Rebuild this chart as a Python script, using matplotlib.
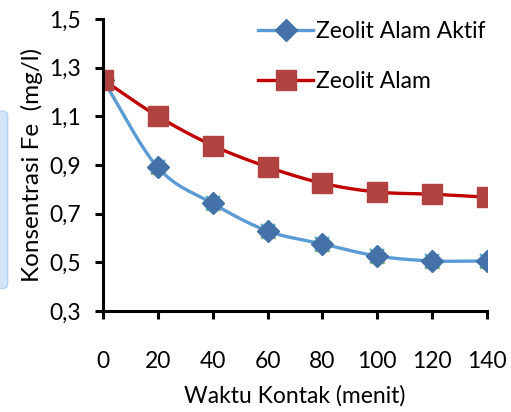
import numpy as np
import matplotlib
matplotlib.use('Agg')
from matplotlib import pyplot as plt
from matplotlib.patches import FancyBboxPatch

# data
waktu = [0, 20, 40, 60, 80, 100, 120, 140]
zeolit_aktif = [1.25, 0.89, 0.742, 0.629, 0.576, 0.526, 0.506, 0.506]
zeolit_alam = [1.25, 1.10, 0.98, 0.892, 0.825, 0.789, 0.78, 0.768]
y_ticks = [0.3, 0.5, 0.7, 0.9, 1.1, 1.3, 1.5]
x_ticks = [0, 20, 40, 60, 80, 100, 120, 140]


def smooth(x, y, n=30):
    # catmull-rom curve through the points (like excel's smoothed line)
    x = np.asarray(x, float)
    y = np.asarray(y, float)
    px = np.concatenate([[2 * x[0] - x[1]], x, [2 * x[-1] - x[-2]]])
    py = np.concatenate([[2 * y[0] - y[1]], y, [2 * y[-1] - y[-2]]])
    t = np.linspace(0, 1, n)[:, None]
    xs, ys = [], []
    for i in range(1, len(px) - 2):
        for p, out in ((px, xs), (py, ys)):
            p0, p1, p2, p3 = p[i - 1], p[i], p[i + 1], p[i + 2]
            seg = 0.5 * ((2 * p1) + (-p0 + p2) * t
                         + (2 * p0 - 5 * p1 + 4 * p2 - p3) * t ** 2
                         + (-p0 + 3 * p1 - 3 * p2 + p3) * t ** 3)
            out.append(seg.ravel())
    return np.concatenate(xs), np.concatenate(ys)


plt.rcParams['font.family'] = ['Lato', 'DejaVu Sans']

fig = plt.figure(figsize=(5.11, 4.12), dpi=100)
ax = fig.add_axes([0.2016, 0.245, 0.7515, 0.709])

# light blue tab at the left edge of the screenshot
fig.patches.append(FancyBboxPatch((-0.02, 0.3), 0.035, 0.43,
                                  boxstyle='round,pad=0,rounding_size=0.01',
                                  transform=fig.transFigure, facecolor='#d3e6f8',
                                  edgecolor='#b3d3f2', lw=1))

# hidden series under the blue diamonds
ax.plot(waktu, zeolit_aktif, ls='none', marker='^', ms=10, color='#9bbb59', zorder=2)
ax.plot(waktu, zeolit_aktif, ls='none', marker='x', ms=10, mew=1.5, color='#4bacc6', zorder=2)

sx, sy = smooth(waktu, zeolit_aktif)
ax.plot(sx, sy, color='#5b9bd5', lw=2.4, zorder=3)
ax.plot(waktu, zeolit_aktif, ls='none', marker='D', ms=11, color='#4472a8', zorder=4)
ax.plot([], [], color='#5b9bd5', lw=2.4, marker='D', ms=11, mfc='#4472a8', mec='#4472a8',
        label='Zeolit Alam Aktif')

sx, sy = smooth(waktu, zeolit_alam)
ax.plot(sx, sy, color='#c00000', lw=2.4, zorder=3)
ax.plot(waktu, zeolit_alam, ls='none', marker='s', ms=14, color='#b0433f', zorder=4)
ax.plot([], [], color='#c00000', lw=2.4, marker='s', ms=14, mfc='#b0433f', mec='#b0433f',
        label='Zeolit Alam')

ax.set_xlim(0, 140)
ax.set_ylim(0.3, 1.5)
ax.set_xticks(x_ticks)
ax.set_yticks(y_ticks)
ax.set_yticklabels([('%.1f' % v).replace('.', ',') for v in y_ticks])

for s in ['top', 'right']:
    ax.spines[s].set_visible(False)
for s in ['left', 'bottom']:
    ax.spines[s].set_linewidth(2.2)
    ax.spines[s].set_color('black')
ax.spines['left'].set_zorder(5)

ax.tick_params(axis='y', direction='out', length=6, width=2.2, pad=10, labelsize=16.5)
ax.tick_params(axis='x', direction='out', length=6, width=2.2, pad=23, labelsize=16.5)

ax.set_xlabel('Waktu Kontak (menit)', fontsize=16.5, labelpad=9)
ax.set_ylabel('Konsentrasi Fe  (mg/l)', fontsize=17.5, labelpad=4)

leg = ax.legend(loc='upper left', bbox_to_anchor=(0.35, 1.065), frameon=False,
                fontsize=16.5, handlelength=2.4, labelspacing=1.3, handletextpad=0.15)

fig.savefig('out.png', dpi=100)
